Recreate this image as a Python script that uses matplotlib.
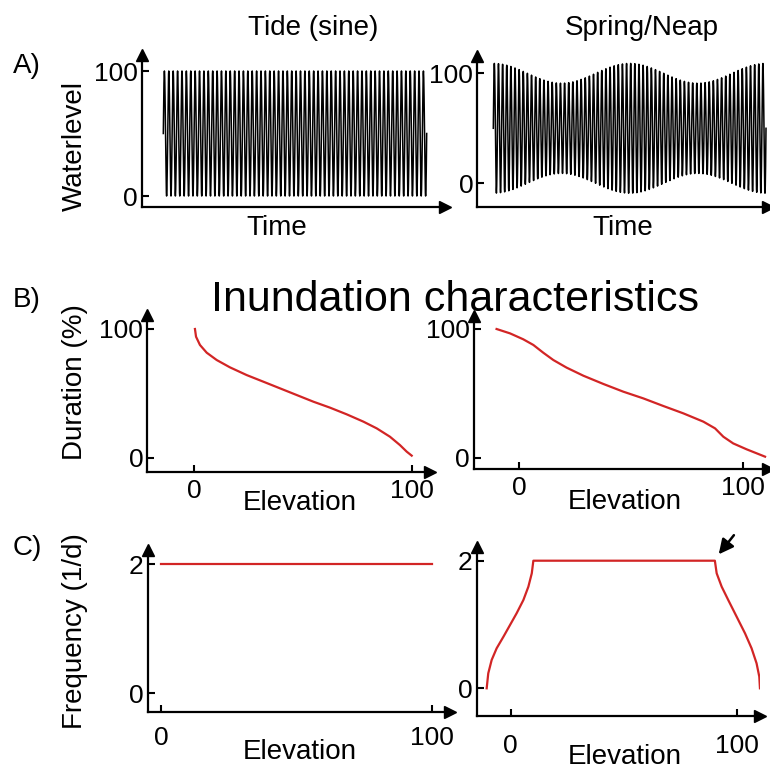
import numpy as np
import matplotlib
matplotlib.use("Agg")
import matplotlib.pyplot as plt

plt.rcParams['font.family'] = ['Liberation Sans', 'DejaVu Sans']

# tide settings
tide_mean = 50
tide_amp = 50
tide_cycles = 60
sn_cycles = 66
sn_periods = 2
spring_amp = 59
neap_amp = 41

# inundation duration (%) vs elevation
dur_sine_elev = [0.3, 0.8, 2.6, 5.7, 10.3, 16.4, 24.1, 31.7, 39.4, 47.1, 54.8,
                 62.4, 70.1, 77.8, 83.9, 90.0, 94.6, 97.7, 100.0]
dur_sine = [100, 94, 87.6, 81.6, 75.9, 70.2, 64.2, 59.1, 53.9, 48.7, 43.5,
            38.9, 33.7, 28.0, 22.8, 16.3, 9.8, 4.7, 1.6]
dur_sn_elev = [-10, -4, 1.9, 6.4, 10.8, 15.3, 21.2, 28.7, 37.6, 46.5, 55.4,
               64.3, 73.2, 82.2, 87.4, 91.1, 95.5, 101.5, 109.7]
dur_sn = [100, 96.6, 92, 87.6, 81.6, 75.9, 70, 63.7, 57.3, 51.3, 46.1,
          40.2, 34.5, 28, 22.8, 16.3, 11.1, 6.5, 0.8]

# inundation frequency (1/d) vs elevation
freq_sine_elev = [0, 100]
freq_sine = [2, 2]
freq_sn_elev = [-10.6, -9.9, -8.4, -6.2, -3.2, -0.3, 2.6, 5.6, 7.8, 9.3, 10.0,
                90.1, 90.9, 93.1, 96.0, 99.7, 103.4, 106.3, 108.5, 109.7, 110.0]
freq_sn = [0, 0.235, 0.444, 0.627, 0.809, 0.992, 1.175, 1.384, 1.593, 1.802, 2.0,
           2.0, 1.802, 1.593, 1.384, 1.123, 0.862, 0.627, 0.392, 0.183, 0]

W = 770.0
red = '#d22525'
fig = plt.figure(figsize=(7.7, 7.7), dpi=100)


def ftext(x, y, s, **kw):
    fig.text(x / W, 1 - y / W, s, ha='center', va='center', **kw)


def panel(x0, x1, ytop, ybot, xref, yref, xpad=3):
    # xref / yref: ((value, pixel), (value, pixel)) for two reference points
    ax = fig.add_axes([x0 / W, 1 - ybot / W, (x1 - x0) / W, (ybot - ytop) / W])
    (vx0, px0), (vx1, px1) = xref
    sx = (vx1 - vx0) / (px1 - px0)
    ax.set_xlim(vx0 + (x0 - px0) * sx, vx0 + (x1 - px0) * sx)
    (vy0, py0), (vy1, py1) = yref
    sy = (vy1 - vy0) / (py0 - py1)
    ax.set_ylim(vy0 + (py0 - ybot) * sy, vy0 + (py0 - ytop) * sy)
    for s in ['top', 'right']:
        ax.spines[s].set_visible(False)
    for s in ['left', 'bottom']:
        ax.spines[s].set_linewidth(1.6)
    ax.plot(1, 0, '>k', ms=8, transform=ax.transAxes, clip_on=False)
    ax.plot(0, 1, '^k', ms=8, transform=ax.transAxes, clip_on=False)
    ax.tick_params(direction='in', length=5, width=1.5, labelsize=19, pad=3)
    ax.tick_params(axis='x', pad=xpad)
    ax.patch.set_visible(False)
    return ax


# A) water level
t = np.linspace(0, tide_cycles, tide_cycles * 40 + 1)
wl = tide_mean + tide_amp * np.sin(2 * np.pi * t)
ax = panel(141.7, 445, 55, 206.7, ((0, 163.3), (tide_cycles, 426.7)), ((0, 196), (100, 71)))
ax.plot(t, wl, color='k', lw=1.1)
ax.set_xticks([])
ax.set_yticks([0, 100])

t2 = np.linspace(0, sn_cycles, sn_cycles * 40 + 1)
env = (spring_amp + neap_amp) / 2 + (spring_amp - neap_amp) / 2 * np.cos(2 * np.pi * t2 * sn_periods / sn_cycles)
wl2 = tide_mean + env * np.sin(2 * np.pi * t2)
ax = panel(477.3, 768, 56, 207.3, ((0, 493.3), (sn_cycles, 766)), ((0, 183.3), (100, 73.3)))
ax.plot(t2, wl2, color='k', lw=1.1)
ax.set_xticks([])
ax.set_yticks([0, 100])

# B) duration
ax = panel(147.3, 430, 315, 472.3, ((0, 194.3), (100, 411.7)), ((0, 457.7), (100, 329)), xpad=5)
ax.plot(dur_sine_elev, dur_sine, color=red, lw=1.6)
ax.set_xticks([0, 100])
ax.set_yticks([0, 100])

ax = panel(474, 768, 316, 469.3, ((0, 519), (100, 743.3)), ((0, 457.7), (100, 329)), xpad=5)
ax.plot(dur_sn_elev, dur_sn, color=red, lw=1.6)
ax.set_xticks([0, 100])
ax.set_yticks([0, 100])

# C) frequency
ax = panel(147.7, 450, 550, 711.7, ((0, 161), (100, 431.7)), ((0, 693.3), (2, 564.3)), xpad=10)
ax.plot(freq_sine_elev, freq_sine, color=red, lw=1.6)
ax.set_xticks([0, 100])
ax.set_yticks([0, 2])

ax = panel(476.7, 760, 546.7, 716, ((0, 510.7), (100, 737.3)), ((0, 688.3), (2, 560.7)), xpad=13)
ax.plot(freq_sn_elev, freq_sn, color=red, lw=1.6)
ax.set_xticks([0, 100])
ax.set_yticks([0, 2])
ax.annotate('', xy=(91.8, 2.10), xytext=(98.5, 2.40),
            arrowprops=dict(arrowstyle='-|>', color='k', lw=1.8, mutation_scale=22,
                            shrinkA=0, shrinkB=0),
            annotation_clip=False)

# texts
ftext(313, 28, 'Tide (sine)', fontsize=20)
ftext(642, 28, 'Spring/Neap', fontsize=20)
ftext(27, 66, 'A)', fontsize=20)
ftext(75, 146, 'Waterlevel', fontsize=20, rotation=90)
ftext(277, 228, 'Time', fontsize=20)
ftext(623, 228, 'Time', fontsize=20)

ftext(27, 300, 'B)', fontsize=20)
ftext(455, 300, 'Inundation characteristics', fontsize=31)
ftext(75, 382, 'Duration (%)', fontsize=20, rotation=90)
ftext(300, 503, 'Elevation', fontsize=20)
ftext(625, 502, 'Elevation', fontsize=20)

ftext(27, 548, 'C)', fontsize=20)
ftext(75, 631, 'Frequency (1/d)', fontsize=20, rotation=90)
ftext(300, 752, 'Elevation', fontsize=20)
ftext(625, 757, 'Elevation', fontsize=20)

fig.savefig('out.png', dpi=100)
